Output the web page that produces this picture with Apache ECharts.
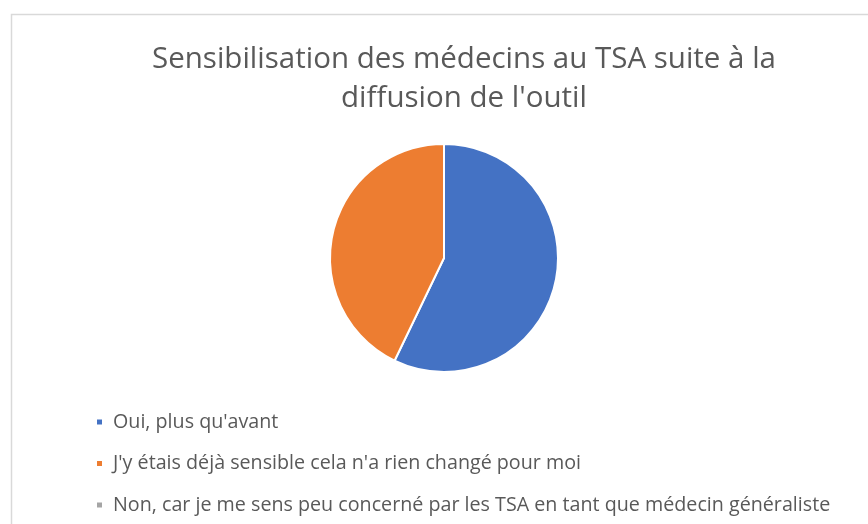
<!DOCTYPE html>
<html><head><meta charset="utf-8">
<script src="https://cdn.jsdelivr.net/npm/echarts@6/dist/echarts.min.js"></script>
<style>html,body{margin:0;padding:0;background:#fff}#c{width:868px;height:524px}</style>
</head><body><div id="c"></div>
<script>
const titleText = "Sensibilisation des médecins au TSA suite à la\ndiffusion de l'outil";
const categories = ["Oui, plus qu'avant", "J'y étais déjà sensible cela n'a rien changé pour moi", "Non, car je me sens peu concerné par les TSA en tant que médecin généraliste"];
const values = [12, 9, 0];
const colors = ['#4472C4', '#ED7D31', '#A5A5A5'];

const chart = echarts.init(document.getElementById('c'), null, {renderer: 'canvas'});
chart.setOption({
  animation: false,
  color: colors,
  graphic: [{
    type: 'rect', left: 9, top: 12, silent: true,
    shape: {width: 900, height: 600},
    style: {fill: 'none', stroke: '#d9d9d9', lineWidth: 1.5}
  }],
  title: {
    text: titleText, left: 464, top: 40, padding: 0, textAlign: 'center',
    textStyle: {fontFamily: 'Open Sans', fontSize: 29.5, fontWeight: 'normal', color: '#595959', lineHeight: 39}
  },
  legend: {
    orient: 'vertical', left: 95, top: 412, padding: 0, itemGap: 21.5,
    itemWidth: 7, itemHeight: 7, icon: 'rect',
    textStyle: {fontFamily: 'Open Sans', fontSize: 19.7, lineHeight: 20, color: '#595959', padding: [0, 0, 0, 5]},
    data: categories
  },
  series: [{
    type: 'pie', center: [444, 258], radius: 114,
    startAngle: 90, clockwise: true,
    label: {show: false}, labelLine: {show: false},
    itemStyle: {borderColor: '#fff', borderWidth: 2},
    emphasis: {disabled: true},
    data: categories.map((c, i) => ({name: c, value: values[i]}))
  }]
});
</script></body></html>
